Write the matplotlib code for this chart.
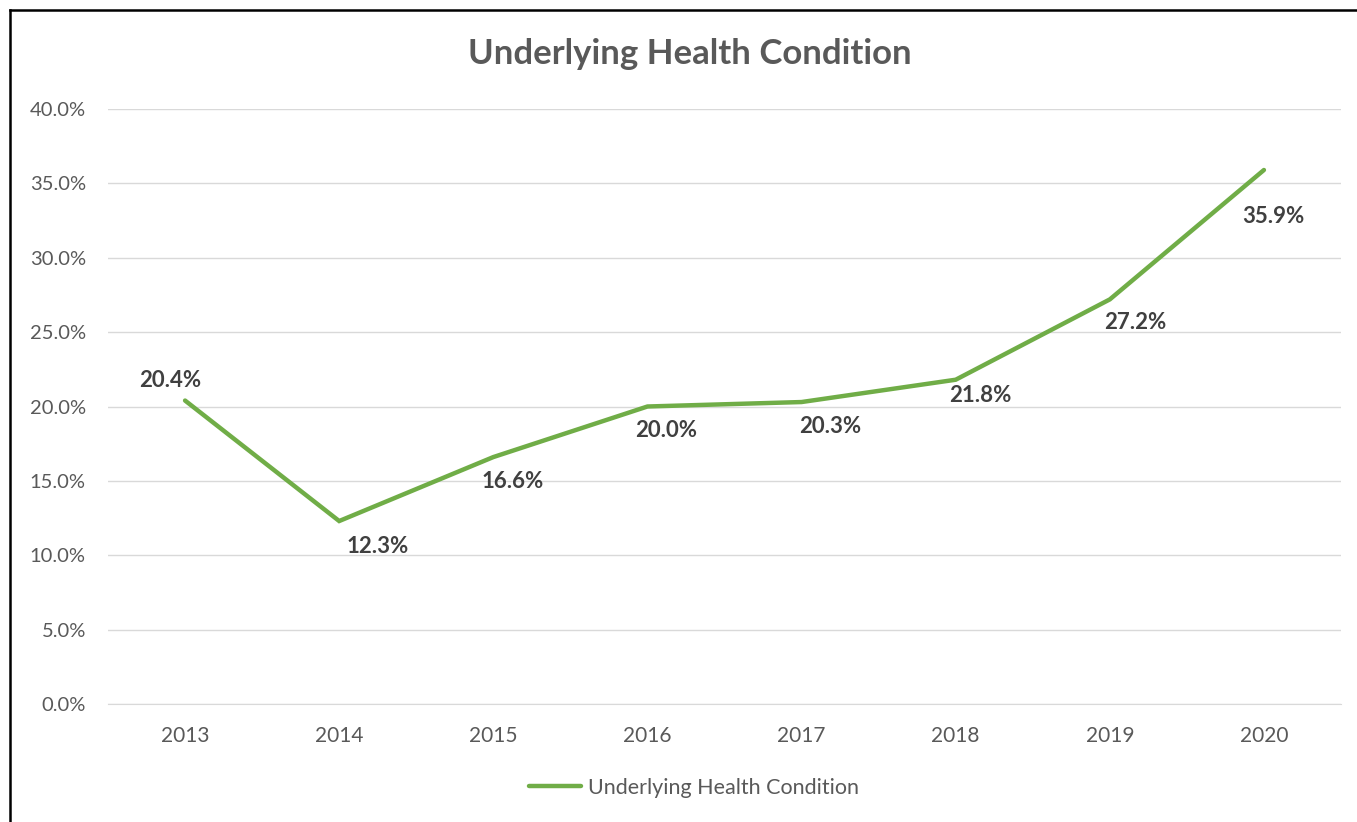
import matplotlib.pyplot as plt
from matplotlib.lines import Line2D
from matplotlib.ticker import PercentFormatter

# данные
years = ['2013', '2014', '2015', '2016', '2017', '2018', '2019', '2020']
values = [20.4, 12.3, 16.6, 20.0, 20.3, 21.8, 27.2, 35.9]
series_name = 'Underlying Health Condition'

# смещения подписей (в пикселях)
label_dx = [-15, 38, 19, 19, 29, 25, 25, 9]
label_dy = [20, -25, -24, -24, -24, -16, -23, -47]

W, H = 1357, 822
plt.rcParams['font.family'] = ['Lato', 'DejaVu Sans']

fig = plt.figure(figsize=(W / 100, H / 100), dpi=100)
ax = fig.add_axes([108 / W, 1 - 704 / H, (1341 - 108) / W, (704 - 109) / H])

x = list(range(len(years)))
ax.plot(x, values, color='#70AD47', lw=3.2, solid_capstyle='round',
        solid_joinstyle='miter', label=series_name, zorder=3)

for i, v in enumerate(values):
    ax.annotate(f'{v:.1f}%', (i, v), xytext=(label_dx[i] * 0.72, label_dy[i] * 0.72),
                textcoords='offset points', ha='center', va='center',
                fontsize=16, fontweight='bold', color='#404040')

ax.set_xlim(-0.5, len(years) - 0.5)
ax.set_ylim(0, 40)
ax.set_yticks(range(0, 41, 5))
ax.yaxis.set_major_formatter(PercentFormatter(decimals=1))
ax.set_xticks(x)
ax.set_xticklabels(years)
ax.grid(axis='y', color='#D9D9D9', lw=1)
ax.set_axisbelow(True)
for s in ax.spines.values():
    s.set_visible(False)
ax.spines['bottom'].set_visible(True)
ax.spines['bottom'].set_color('#D9D9D9')
ax.tick_params(length=0, labelcolor='#595959')
ax.tick_params(axis='y', pad=16, labelsize=14.5)
ax.tick_params(axis='x', pad=16, labelsize=15)

fig.text(690 / W, 1 - 54 / H, 'Underlying Health Condition', ha='center', va='center',
         fontsize=25, fontweight='bold', color='#595959')

leg = fig.legend(loc='center', bbox_to_anchor=(694 / W, 1 - 788 / H), frameon=False,
                 fontsize=15.5, handlelength=2.4, handletextpad=0.3)
for t in leg.get_texts():
    t.set_color('#595959')

# рамка
fig.add_artist(Line2D([9.5 / W, 9.5 / W], [0, 1 - 10 / H], transform=fig.transFigure,
                      color='black', lw=1.8))
fig.add_artist(Line2D([9.5 / W, 1], [1 - 10 / H, 1 - 10 / H], transform=fig.transFigure,
                      color='black', lw=1.8))

fig.savefig('out.png', dpi=100)
